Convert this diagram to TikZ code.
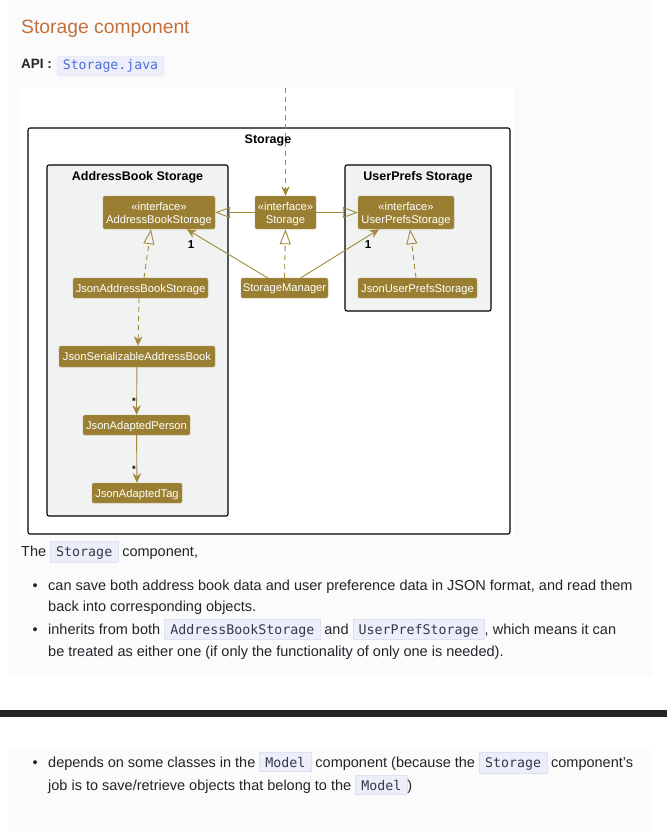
\documentclass[tikz,border=0pt]{standalone}
\usepackage{fontspec}
\setmainfont{Liberation Sans}
\setmonofont{DejaVu Sans Mono}
\usetikzlibrary{arrows.meta,calc}

\definecolor{pagegray}{RGB}{251,251,252}
\definecolor{headorange}{RGB}{197,112,58}
\definecolor{bodytext}{RGB}{33,37,41}
\definecolor{codebg}{RGB}{236,238,250}
\definecolor{codeline}{RGB}{222,225,242}
\definecolor{codetext}{RGB}{52,58,70}
\definecolor{apiblue}{RGB}{78,110,214}
\definecolor{classfill}{RGB}{154,127,51}
\definecolor{edgegold}{RGB}{163,137,58}
\definecolor{pkgfill}{RGB}{241,243,242}
\definecolor{rulegray}{RGB}{36,36,36}

% inline code span used in the running text
\newcommand\snippet[1]{{\setlength\fboxsep{2.6pt}\setlength\fboxrule{0.4pt}%
  \fcolorbox{codeline}{codebg}{\rule[-1.4pt]{0pt}{13.8pt}\hspace{3pt}%
  {\fontsize{13.3}{15}\ttfamily\color{codetext}#1}\hspace{3pt}}}}

\tikzset{
  classbox/.style={fill=classfill, draw=classfill!75!white, line width=0.4pt,
    rounded corners=1.5pt, text=white, font=\fontsize{11.2}{13}\selectfont,
    inner sep=0pt, align=center, text depth=0pt},
  pkg/.style={draw=black, line width=1.1pt, rounded corners=2pt},
  pkgtitle/.style={font=\bfseries\fontsize{12.5}{14}\selectfont, inner sep=0pt},
  edge/.style={draw=edgegold, line width=0.9pt},
  gen/.style={edge, -{Triangle[open, length=15pt, width=11pt]}},
  dep/.style={edge, -{Stealth[length=9.5pt, width=8.5pt, inset=3pt]}},
  dashedge/.style={dash pattern=on 5pt off 4pt},
  mult/.style={font=\bfseries\fontsize{11.5}{13}\selectfont, inner sep=0pt},
  star/.style={font=\bfseries\fontsize{9.5}{10}\selectfont, inner sep=0pt},
  body/.style={anchor=base west, inner sep=0pt, text=bodytext,
    font=\fontsize{14.5}{22}\selectfont},
}

\begin{document}
\begin{tikzpicture}[x=1pt, y=-1pt]
\useasboundingbox (0,0) rectangle (667,831);
\fill[white] (0,0) rectangle (667,831);

% page panels and separator
\fill[pagegray] (8,0) rectangle (653,677);
\fill[pagegray] (8,750) rectangle (653,831);
\fill[rulegray] (0,710) rectangle (667,717);

% heading
\node[anchor=base west, inner sep=0pt, text=headorange,
  font=\fontsize{19.3}{22}\selectfont] (heading) at (21,33.5) {Storage component};
\node[anchor=base west, inner sep=0pt, text=bodytext,
  font=\bfseries\fontsize{13.5}{16}\selectfont] (apilabel) at (21,68.3) {API :};
\node[fill=codebg, draw=codeline, line width=0.4pt, rounded corners=2pt,
  minimum width=107pt, minimum height=20pt, inner sep=0pt, text=apiblue,
  font=\fontsize{13.2}{15}\ttfamily] (apifile) at (110.5,66) {Storage.java};

% diagram canvas
\fill[white] (20,88) rectangle (514,535);

% packages
\draw[pkg, fill=white] (28,128) rectangle (510,534);
\draw[pkg, fill=pkgfill] (47,165) rectangle (228,516);
\draw[pkg, fill=pkgfill] (345,165) rectangle (491,311);

% classes
\node[classbox, minimum width=112pt, minimum height=33pt] (abs) at (159,212.5)
  {«interface»\\AddressBookStorage};
\node[classbox, minimum width=61pt, minimum height=33pt] (st) at (285.5,212.5)
  {«interface»\\Storage};
\node[classbox, minimum width=96pt, minimum height=33pt] (ups) at (406,212.5)
  {«interface»\\UserPrefsStorage};
\node[classbox, minimum width=135pt, minimum height=20pt] (jabs) at (140.5,288)
  {JsonAddressBookStorage};
\node[classbox, minimum width=87pt, minimum height=20pt] (sm) at (284.5,288)
  {StorageManager};
\node[classbox, minimum width=119pt, minimum height=20pt] (jups) at (417.5,288)
  {JsonUserPrefsStorage};
\node[classbox, minimum width=156pt, minimum height=21pt] (jsab) at (137,356.5)
  {JsonSerializableAddressBook};
\node[classbox, minimum width=107pt, minimum height=20pt] (jap) at (136.5,425)
  {JsonAdaptedPerson};
\node[classbox, minimum width=90pt, minimum height=20pt] (jat) at (137,493)
  {JsonAdaptedTag};

% incoming dependency on the Storage interface
\coordinate (outside) at (285.5,88);
\draw[dep, dashedge] (outside) -- (st.north);

% package titles
\node[pkgtitle] (ttlstorage) at (268,140) {Storage};
\node[pkgtitle] (ttlabs) at (137.5,177) {AddressBook Storage};
\node[pkgtitle] (ttlups) at (418,177) {UserPrefs Storage};

% inheritance and realization
\draw[gen] (st.west) -- (abs.east);
\draw[gen] (st.east) -- (ups.west);
\draw[gen, dashedge] (sm.north) -- (st.south);
\draw[gen, dashedge] ($(jabs.north)+(3.5,0)$) -- ($(abs.south)+(-8,0)$);
\draw[gen, dashedge] ($(jups.north)+(-1.5,0)$) -- ($(ups.south)+(4,0)$);

% associations
\draw[dep] (sm) -- (abs);
\draw[dep] (sm) -- (ups);
\draw[dep, dashedge] ($(jabs.south)+(-1.5,0)$) -- ($(jsab.north)+(1,0)$);
\draw[dep] (jsab) -- (jap);
\draw[dep] (jap) -- (jat);

% multiplicities
\node[mult] (m1) at (191,245) {1};
\node[mult] (m2) at (368,245) {1};
\node[star] (m3) at (134,401) {*};
\node[star] (m4) at (134,469) {*};

% description text
\node[body] (intro) at (21,556.5) {The \snippet{Storage} component,};
\node[body] (b1) at (32.5,590) {\textbullet};
\node[body] (l1) at (48,590) {can save both address book data and user preference data in JSON format, and read them};
\node[body] (l2) at (48,611.5) {back into corresponding objects.};
\node[body] (b2) at (32.5,634) {\textbullet};
\node[body] (l3) at (48,634) {inherits from both \snippet{AddressBookStorage} and \snippet{UserPrefStorage}, which means it can};
\node[body] (l4) at (48,656) {be treated as either one (if only the functionality of only one is needed).};
\node[body] (b3) at (32.5,767.3) {\textbullet};
\node[body] (l5) at (48,767.3) {depends on some classes in the \snippet{Model} component (because the \snippet{Storage} component's};
\node[body] (l6) at (48,790) {job is to save/retrieve objects that belong to the \snippet{Model})};
\end{tikzpicture}
\end{document}
